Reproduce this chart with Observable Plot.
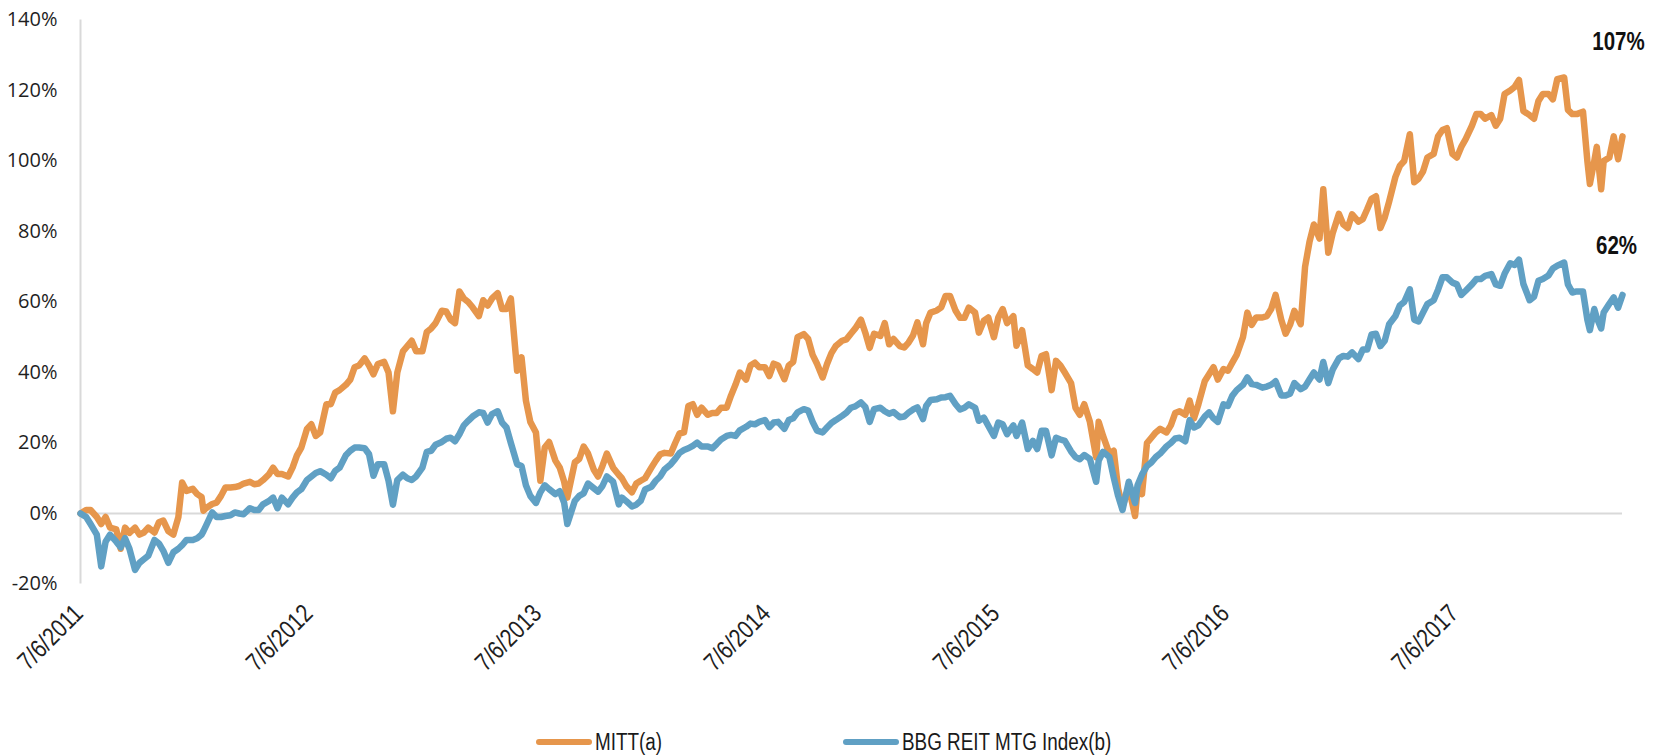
<!DOCTYPE html>
<html><head><meta charset="utf-8">
<script src="https://cdn.jsdelivr.net/npm/d3@7"></script>
<script src="https://cdn.jsdelivr.net/npm/@observablehq/plot@0.6"></script>
<style>
html,body{margin:0;padding:0;background:#fff;}
#wrap{position:relative;width:1662px;height:755px;overflow:hidden;background:#fff;}
.leg{position:absolute;top:728px;height:28px;display:flex;align-items:center;font-family:"Liberation Sans",Arial,sans-serif;font-size:23px;color:#1a1a1a;white-space:nowrap;}
.sw{display:inline-block;width:56px;height:6px;border-radius:3px;margin-right:3px;}
.lt{display:inline-block;transform:scaleX(0.82);transform-origin:left center;}
</style></head><body><div id="wrap"></div>
<script>
// semi-monthly readings (1st / 15th plus spike dates)
const dates = ["2011-07-06","2011-07-15","2011-08-01","2011-08-08","2011-08-15","2011-09-01","2011-09-08","2011-09-15","2011-10-01","2011-10-15","2011-11-01","2011-11-15","2011-11-23","2011-12-01","2011-12-09","2011-12-15",
"2012-01-01","2012-01-15","2012-01-18","2012-02-01","2012-02-15","2012-03-01","2012-03-15","2012-04-01","2012-04-15","2012-05-01","2012-05-15","2012-06-01","2012-06-15","2012-07-01","2012-07-15","2012-08-01","2012-08-15","2012-09-01","2012-09-15","2012-10-01","2012-10-15","2012-11-01","2012-11-15","2012-12-01","2012-12-15",
"2013-01-01","2013-01-15","2013-02-01","2013-02-15","2013-03-01","2013-03-15","2013-04-01","2013-04-15","2013-05-01","2013-05-15","2013-06-01","2013-06-15","2013-07-01","2013-07-15","2013-08-01","2013-08-15","2013-08-20","2013-09-01","2013-09-15","2013-10-01","2013-10-15","2013-11-01","2013-11-10","2013-11-15","2013-12-01","2013-12-15",
"2014-01-01","2014-01-15","2014-02-01","2014-02-15","2014-03-01","2014-03-15","2014-04-01","2014-04-15","2014-05-01","2014-05-15","2014-06-01","2014-06-15","2014-07-01","2014-07-15","2014-08-01","2014-08-15","2014-09-01","2014-09-15","2014-10-01","2014-10-15","2014-11-01","2014-11-15","2014-12-01","2014-12-15",
"2015-01-01","2015-01-15","2015-02-01","2015-02-15","2015-03-01","2015-03-10","2015-03-15","2015-04-01","2015-04-15","2015-05-01","2015-05-15","2015-06-01","2015-06-07","2015-06-15","2015-07-01","2015-07-15","2015-08-01","2015-08-06","2015-08-15","2015-08-24","2015-09-01","2015-09-15","2015-10-01","2015-10-15","2015-11-01","2015-11-15","2015-12-01","2015-12-11","2015-12-15",
"2016-01-01","2016-01-15","2016-01-22","2016-02-01","2016-02-11","2016-02-15","2016-03-01","2016-03-15","2016-04-01","2016-04-15","2016-05-01","2016-05-15","2016-06-01","2016-06-15","2016-07-01","2016-07-15","2016-08-01","2016-08-15","2016-09-01","2016-09-15","2016-10-01","2016-10-15","2016-11-01","2016-11-08","2016-11-15","2016-12-01","2016-12-07","2016-12-15",
"2017-01-01","2017-01-15","2017-02-01","2017-02-15","2017-03-01","2017-03-15","2017-04-01","2017-04-15","2017-04-24","2017-05-01","2017-05-15","2017-06-01","2017-06-15","2017-07-01","2017-07-15","2017-08-01","2017-08-15","2017-09-01","2017-09-15","2017-10-01","2017-10-15","2017-11-01","2017-11-15","2017-12-01","2017-12-15","2017-12-26",
"2018-01-01","2018-01-15","2018-01-25","2018-02-01","2018-02-05","2018-02-12","2018-02-16","2018-02-23","2018-02-27","2018-03-08","2018-03-15","2018-03-22","2018-03-29"];

const mitt = [0,1,-1,-3,-1,-4.5,-10,-4,-4,-5.4,-5.4,-2,-5,-6,-1,8.8,
7,4.7,0.8,2.7,5,7.4,7.8,9,8.5,11,11.2,10.5,16.5,24,22,31,34.3,36.5,41.5,44,39.5,43,29,46,49,
46,52.5,57.5,55,63,60,56,59,62.5,58,40.5,32,23,18.7,15,9,4.5,14.5,19,12.5,13.5,13,11,10,6,9.3,
13,16.8,17,22.7,30.5,28,28,28.5,30,36.5,38,42.8,41.5,42.5,38.1,43,50.9,45,38.6,45.5,49,51,55,47,
50.4,48,47.5,48.5,54.2,48,54,57.6,61.7,57.5,55.5,57,51.3,54.7,50,58,56,47.6,52,42,41,44.7,35,42,37,28,26,16,26,
17,7,2,7.4,-0.7,7,20,23,23,28.5,28,27,37.5,41.5,41,42.8,50,53.5,55.6,58,55,53.5,53.7,70,77,78,92,74,
85,81,82.8,86.3,90,84,95.5,100,107.6,94,97,102,108.8,102,104,110,113.3,113,112,120,123,113,117,119,123.2,123.7,
114.5,113.3,114,100,93.5,100,104,92,100,101,107,100.5,107];

const bbg = [0,-1,-6,-15,-8,-8,-9.6,-7,-16,-13,-7.5,-10.6,-14,-11,-10,-9,
-7.5,-6,-5,0.3,-1,-0.5,0,1.5,1,3.5,1.5,2.6,6,9.5,11.5,11,12.1,16.5,18.7,18.5,10.7,14,2.5,11,9.5,
13,17.8,20.3,21.5,22.5,26.3,28.7,25.8,29,24.4,14,8,3,8,5.5,3,-3,3.6,5.7,7.2,7.8,9,2.6,4.5,2,3.6,
7.6,10.5,14,17.2,18.5,20.1,19,19.7,22,22,24.6,25.3,26.5,25.8,24,27,29.6,26,23,25.7,27.7,30,31.5,26,
30,28.3,27.3,28.6,30.1,26.8,30.5,32.4,33,31,30,30,26.3,27.2,22,25.3,25,22,25.8,18.3,20.6,23.5,16.5,21,17.6,15.4,15.5,9,15,
16,5,1,9,3,8,13.5,16,19,21.3,20.5,24.4,27.5,27,31,33.4,36.5,36.7,35.7,36.5,33.5,34,35.3,36,38,38,43,37,
44,44.5,43.8,46.5,51,49,56,60,63.6,55,57,60.5,67,65.5,62,65,66.5,67.9,64.6,71,72,60.5,66,67.5,70.3,71.2,
65,63,63,55,52,58,55.5,52.5,57,59.5,61.3,58.4,62];

// extra readings (8th / 22nd of month)
const datesMid = ["2011-07-22","2011-08-22","2011-09-22","2011-10-08","2011-10-22","2011-11-08","2011-12-22",
"2012-01-08","2012-01-22","2012-02-08","2012-02-22","2012-03-08","2012-03-22","2012-04-08","2012-04-22","2012-05-08","2012-05-22","2012-06-08","2012-06-22","2012-07-08","2012-07-22","2012-08-08","2012-08-22","2012-09-08","2012-09-22","2012-10-08","2012-10-22","2012-11-08","2012-11-22","2012-12-08","2012-12-22",
"2013-01-08","2013-01-22","2013-02-08","2013-02-22","2013-03-08","2013-03-22","2013-04-08","2013-04-22","2013-05-08","2013-05-22","2013-06-08","2013-06-22","2013-07-08","2013-07-22","2013-08-08","2013-09-08","2013-09-22","2013-10-08","2013-10-22","2013-11-22","2013-12-08","2013-12-22",
"2014-01-08","2014-01-22","2014-02-08","2014-02-22","2014-03-08","2014-03-22","2014-04-08","2014-04-22","2014-05-08","2014-05-22","2014-06-08","2014-06-22","2014-07-08","2014-07-22","2014-08-08","2014-08-22","2014-09-08","2014-09-22","2014-10-08","2014-10-22","2014-11-08","2014-11-22","2014-12-08","2014-12-22",
"2015-01-08","2015-01-22","2015-02-08","2015-02-22","2015-03-22","2015-04-08","2015-04-22","2015-05-08","2015-05-22","2015-06-22","2015-07-08","2015-07-22","2015-09-08","2015-09-22","2015-10-08","2015-10-22","2015-11-08","2015-11-22","2015-12-22",
"2016-01-08","2016-02-22","2016-03-08","2016-03-22","2016-04-08","2016-04-22","2016-05-08","2016-05-22","2016-06-08","2016-06-22","2016-07-08","2016-07-22","2016-08-08","2016-08-22","2016-09-08","2016-09-22","2016-10-08","2016-10-22","2016-11-22","2016-12-22",
"2017-01-08","2017-01-22","2017-02-08","2017-02-22","2017-03-08","2017-03-22","2017-04-08","2017-05-08","2017-05-22","2017-06-08","2017-06-22","2017-07-08","2017-07-22","2017-08-08","2017-08-22","2017-09-08","2017-09-22","2017-10-08","2017-10-22","2017-11-08","2017-11-22","2017-12-08",
"2018-01-08"];

const mittMid = [1,-4,-5.5,-6,-4,-2.5,6.4,
5.5,1.5,3.1,7.4,7.5,8.5,8.3,9.5,13,11.2,13,18.7,25.3,23,31,35,38,42,42,42.4,40,40,47.5,46,
51.5,54,57.3,54,61,58.5,60.5,61,58,61,44.3,26,9.3,20.3,13,15.5,17,10.5,17,7.8,8.5,10,
15,17.2,20,23,31,30,28.5,30,33.5,40,42,41.5,39,42,42,50,49.5,42.5,42.4,47.5,49.4,52.5,51.3,51,
54,49.5,47.1,50.5,57,58.5,61.7,55.5,58.4,55.6,55.6,54,40,45.2,43.3,40,30,31,22,
17.8,5.5,21.5,24,25,29,32,31,39.5,38,40.5,45,57,55.6,56,62,51,57.5,82,79.5,
82,84.9,83.5,89.3,81,88.5,98.6,95,101,107,109.3,101,106.2,113.3,112,110,119,121,114.2,112,119,117.5,
113.3];

const bbgMid = [-3,-6,-10,-14,-12,-8.5,-7.5,
-7,-3.5,-1,-0.7,0.3,-0.2,1,2.6,4.5,4.5,4.5,6.9,10.5,12,10,13,17.8,18.7,16.8,14,9.3,9.5,10,10.5,
17.5,19.5,21.2,20.5,25,27.5,28.5,28.2,25.8,20,13.5,5,6,6.9,6.3,5,8.5,6.2,10.5,3.5,2.5,6.8,
9.3,12.5,15.5,18,19.2,19,18.5,21,22.3,23.6,25.5,26,24.5,26,26.5,28.7,29.2,23.5,24.4,26.5,28.6,30.4,30.2,29.6,
29,28.8,27.5,29.5,32.2,32.9,33.4,29.5,31,24.9,25.8,22.5,18.3,23.5,21.5,20.6,16,16.6,17.5,
10.2,11,14.5,17,20,21.5,26.5,25,28.7,26,30.5,35,38.6,36.5,36,37.5,33.5,37,40,40.8,
44.7,45.7,46.5,50.8,47.5,53.7,59,54.5,59.4,63.5,67,65,63.2,66.5,67.4,65,68,70.5,65.1,61.5,66.5,69.5,
62.7];

const seriesNames = ["MITT(a)", "BBG REIT MTG Index(b)"];
const seriesColors = ["#E6964C", "#60A0C4"];
const yTicks = [-20, 0, 20, 40, 60, 80, 100, 120, 140];
const xTickDates = ["2011-07-06","2012-07-06","2013-07-06","2014-07-06","2015-07-06","2016-07-06","2017-07-06"];
const xTickLabels = ["7/6/2011","7/6/2012","7/6/2013","7/6/2014","7/6/2015","7/6/2016","7/6/2017"];
const endLabels = ["107%", "62%"];

const sansFont = '"Liberation Sans",Arial,sans-serif';
const parse = s => new Date(s + "T00:00:00Z");
const rows = dates.map((d, i) => ({date: parse(d), mitt: mitt[i], bbg: bbg[i]}))
  .concat(datesMid.map((d, i) => ({date: parse(d), mitt: mittMid[i], bbg: bbgMid[i]})))
  .sort((a, b) => a.date - b.date);
const first = rows[0];
const last = rows[rows.length - 1];
const ticks = xTickDates.map(parse);

const chart = Plot.plot({
  width: 1662, height: 700,
  marginLeft: 80, marginRight: 40, marginTop: 19.5, marginBottom: 116.5,
  style: {fontFamily: '"Open Sans", sans-serif', fontSize: "20px", color: "#1f1f1f", background: "#fff", overflow: "visible"},
  x: {type: "utc", domain: [first.date, last.date], axis: null},
  y: {domain: [-20, 140], ticks: yTicks, tickFormat: d => d + "%", tickSize: 0, tickPadding: 23, label: null},
  marks: [
    Plot.ruleX([first.date], {stroke: "#d9d9d9", strokeWidth: 2}),
    Plot.ruleY([0], {stroke: "#d9d9d9", strokeWidth: 2}),
    Plot.line(rows, {x: "date", y: "mitt", stroke: seriesColors[0], strokeWidth: 6.5, strokeLinejoin: "round", strokeLinecap: "round"}),
    Plot.line(rows, {x: "date", y: "bbg", stroke: seriesColors[1], strokeWidth: 6.5, strokeLinejoin: "round", strokeLinecap: "round"}),
    Plot.text(ticks, {x: d => d, text: (d, i) => xTickLabels[i], frameAnchor: "bottom", dy: 31, dx: 4, rotate: -45, textAnchor: "end", lineAnchor: "bottom", fontFamily: sansFont, fontSize: 25.5, fill: "#1f1f1f"}),
    Plot.text([last], {x: "date", y: "mitt", text: () => endLabels[0], dx: -4, dy: -94, textAnchor: "middle", lineAnchor: "middle", fontFamily: sansFont, fontWeight: "bold", fontSize: 25, fill: "#111"}),
    Plot.text([last], {x: "date", y: "bbg", text: () => endLabels[1], dx: -6, dy: -48.5, textAnchor: "middle", lineAnchor: "middle", fontFamily: sansFont, fontWeight: "bold", fontSize: 25, fill: "#111"})
  ]
});

const wrap = document.getElementById("wrap");
wrap.appendChild(chart);

// narrow the Arial-metric labels to mimic a condensed face
const narrowSet = new Set([...xTickLabels, ...endLabels]);
chart.querySelectorAll("text").forEach(el => {
  if (narrowSet.has(el.textContent)) {
    const n = el.getComputedTextLength();
    el.setAttribute("textLength", (n * 0.82).toFixed(1));
    el.setAttribute("lengthAdjust", "spacingAndGlyphs");
  }
});

const legLefts = [536, 843];
seriesNames.forEach((name, i) => {
  const item = document.createElement("div");
  item.className = "leg";
  item.style.left = legLefts[i] + "px";
  const sw = document.createElement("span");
  sw.className = "sw";
  sw.style.background = seriesColors[i];
  const tx = document.createElement("span");
  tx.className = "lt";
  tx.textContent = name;
  item.appendChild(sw);
  item.appendChild(tx);
  wrap.appendChild(item);
});
</script>
</body></html>
